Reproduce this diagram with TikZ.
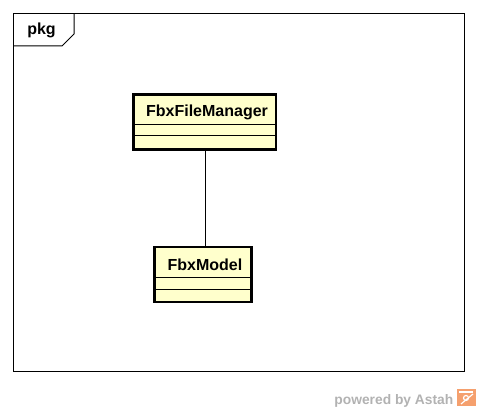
\documentclass[tikz,border=0pt]{standalone}
\usepackage{fontspec}
\setmainfont{Liberation Sans}
\definecolor{classfill}{RGB}{255,255,204}
\definecolor{poweredgray}{RGB}{178,178,178}
\definecolor{astahorange}{RGB}{245,160,110}
\tikzset{
    classbox/.style={draw, line width=2.6pt, fill=classfill, rectangle, inner sep=0pt},
    classname/.style={font=\bfseries\fontsize{16}{18}\selectfont, inner sep=0pt, anchor=base},
}
\begin{document}
\begin{tikzpicture}[x=1pt, y=-1pt]
            \useasboundingbox (0,0) rectangle (477,412);
            % frame with tab
            \draw[line width=1pt] (13.5,13.5) rectangle (464.5,371.5);
            \draw[line width=1pt] (13.5,46) -- (62,46) -- (74,34) -- (74,13.5);
            \node[classname] (pkg) at (41.5,35) {pkg};
            % classes
            \node[classbox, minimum width=142.7pt, minimum height=55pt] (manager) at (204.7,121.8) {};
            \node[classbox, minimum width=97pt, minimum height=55pt] (model) at (203,274.5) {};
            \foreach \y in {124.5,135}{
                \draw[line width=0.9pt] (manager.west |- 0,\y) -- (manager.east |- 0,\y);
            }
            \foreach \y in {277.5,289}{
                \draw[line width=0.9pt] (model.west |- 0,\y) -- (model.east |- 0,\y);
            }
            \node[classname] (managername) at (207,117) {FbxFileManager};
            \node[classname] (modelname) at (205,270) {FbxModel};
            % association
            \draw[line width=1pt] (manager.south -| 205,0) -- (model.north -| 205,0);
            % footer
            \node[font=\bfseries\fontsize{13.8}{16}\selectfont, text=poweredgray, inner sep=0pt, anchor=base east] (powered) at (453.5,404) {powered by Astah};
            \fill[astahorange] (456.5,389) rectangle (476,406);
            \draw[white, line width=1.2pt] (459,392) -- (473,392);
            \draw[white, line width=1.2pt] (473,394) -- (461,404);
            \draw[white, line width=1.2pt] (466,398) circle (2.5);
        \end{tikzpicture}
\end{document}
